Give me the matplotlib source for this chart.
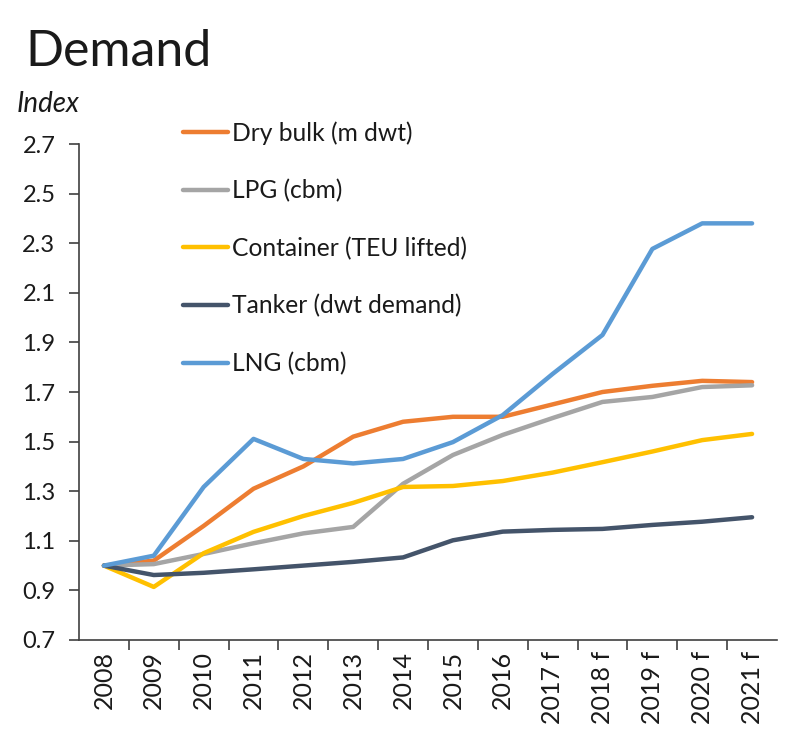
import matplotlib
matplotlib.use("Agg")
import matplotlib.pyplot as plt
import numpy as np

years = ["2008", "2009", "2010", "2011", "2012", "2013", "2014", "2015",
         "2016", "2017 f", "2018 f", "2019 f", "2020 f", "2021 f"]
dry_bulk = [1.00, 1.02, 1.16, 1.31, 1.40, 1.52, 1.58, 1.60, 1.60, 1.65, 1.70, 1.725, 1.745, 1.74]
lpg = [1.00, 1.006, 1.047, 1.09, 1.13, 1.156, 1.33, 1.446, 1.527, 1.595, 1.66, 1.68, 1.72, 1.727]
container = [1.00, 0.914, 1.05, 1.136, 1.20, 1.253, 1.317, 1.321, 1.341, 1.375, 1.417, 1.46, 1.506, 1.531]
tanker = [1.00, 0.962, 0.971, 0.985, 1.00, 1.015, 1.033, 1.102, 1.137, 1.144, 1.148, 1.164, 1.177, 1.195]
lng = [1.00, 1.04, 1.317, 1.511, 1.43, 1.412, 1.43, 1.498, 1.607, 1.773, 1.93, 2.277, 2.38, 2.38]

series = [
    ("Dry bulk (m dwt)", dry_bulk, "#ED7D31"),
    ("LPG (cbm)", lpg, "#A5A5A5"),
    ("Container (TEU lifted)", container, "#FFC000"),
    ("Tanker (dwt demand)", tanker, "#44546A"),
    ("LNG (cbm)", lng, "#5B9BD5"),
]

plt.rcParams['font.family'] = ['Lato', 'DejaVu Sans']

fig = plt.figure(figsize=(8.0, 7.31), dpi=100)
ax = fig.add_axes([79/800, 1 - 640/731, (777 - 79)/800, (640 - 144)/731])

x = np.arange(len(years))
for name, vals, col in series:
    ax.plot(x, vals, color=col, lw=3.2, label=name, solid_capstyle='round', solid_joinstyle='round')

ax.set_xlim(-0.5, len(years) - 0.5)
ax.set_ylim(0.7, 2.7)
ax.set_yticks(np.arange(0.7, 2.71, 0.2))
ax.set_yticklabels([f"{v:.1f}" for v in np.arange(0.7, 2.71, 0.2)], fontsize=17, color="#1a1a1a")
ax.set_xticks(x)
ax.set_xticklabels(years, rotation=90, fontsize=18, color="#1a1a1a")
ax.tick_params(axis='x', which='major', length=0, pad=8)
ax.set_xticks(np.arange(0.5, len(years) - 0.5, 1.0), minor=True)
ax.tick_params(axis='x', which='minor', length=7, width=1.2, color="#404040")
ax.tick_params(axis='y', length=7, width=1.2, color="#404040", pad=10)

for s in ['top', 'right']:
    ax.spines[s].set_visible(False)
for s in ['left', 'bottom']:
    ax.spines[s].set_color("#404040")
    ax.spines[s].set_linewidth(1.2)

fig.text(25/800, 1 - 52/731, "Demand", fontsize=36, va='center', ha='left', color="#1a1a1a")
fig.text(17/800, 1 - 104/731, "Index", fontsize=20, style='italic', va='center', ha='left', color="#1a1a1a")

leg = ax.legend(loc='upper left', bbox_to_anchor=(183/800, 1 - 121/731), bbox_transform=fig.transFigure,
                frameon=False, fontsize=17.7, handlelength=1.85, handletextpad=0.15, labelspacing=1.4,
                borderaxespad=0, borderpad=0)
for t in leg.get_texts():
    t.set_color("#1a1a1a")

fig.savefig("out.png", dpi=100)
